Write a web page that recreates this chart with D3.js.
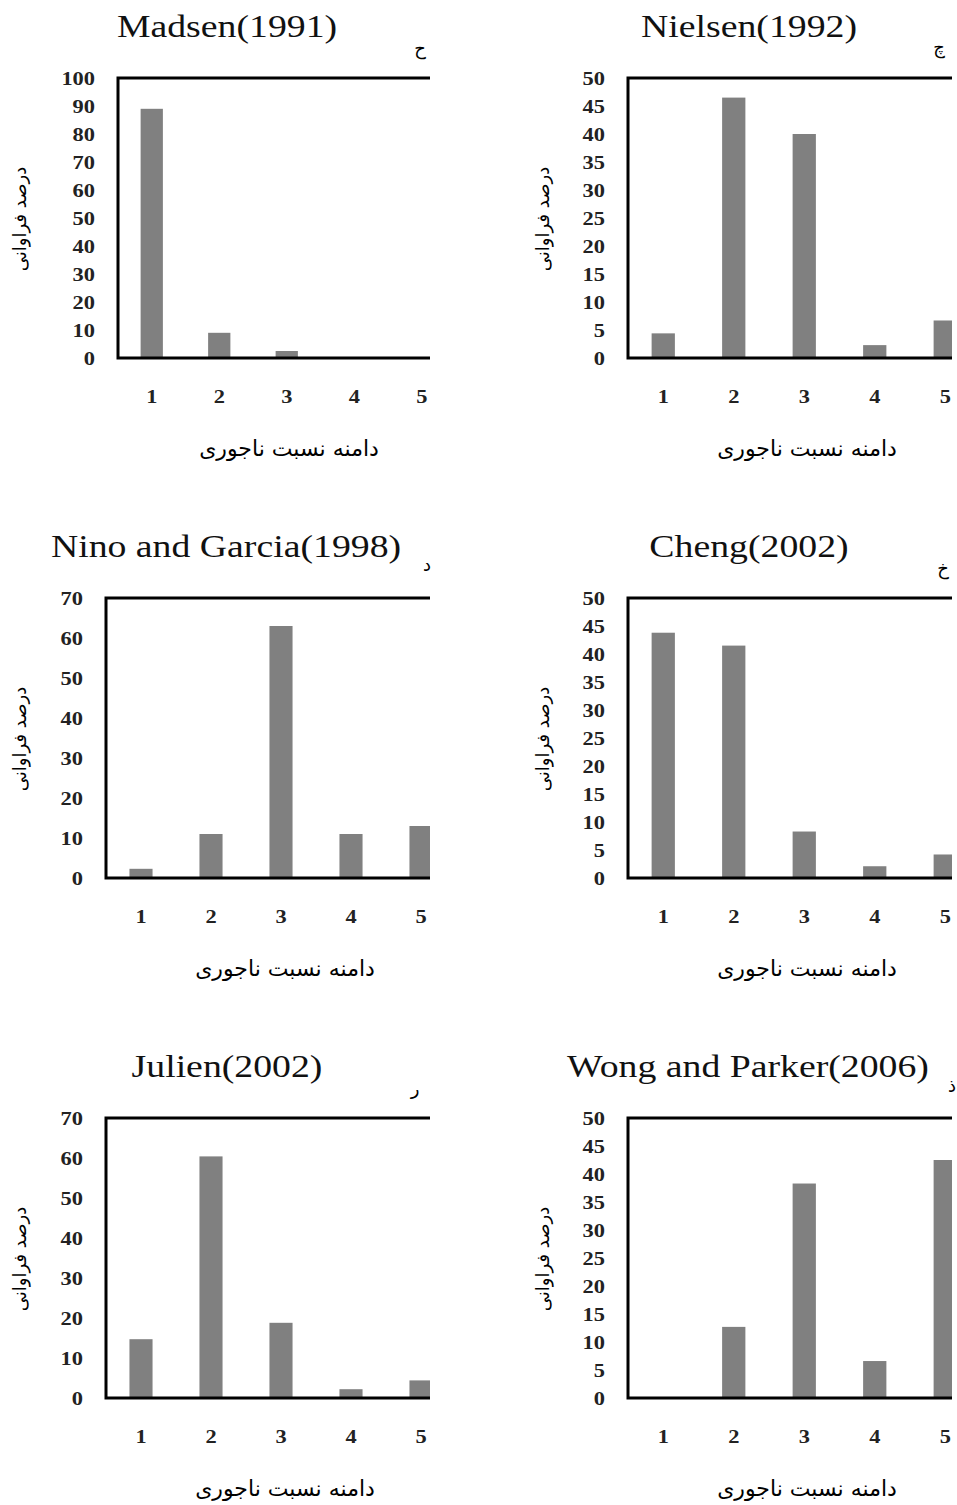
<!DOCTYPE html>
<html>
<head>
<meta charset="utf-8">
<script src="https://cdn.jsdelivr.net/npm/d3@7"></script>
<style>
  html, body { margin: 0; padding: 0; background: #fff; }
  svg { display: block; }
</style>
</head>
<body>
<div id="chart"></div>
<script>
// categories (ratio ranges) shared by all panels
const categories = ['1', '2', '3', '4', '5'];

// frequency percent per study
const madsen = [89, 9, 2.5, 0, 0];
const nielsen = [4.4, 46.5, 40, 2.3, 6.7];
const ninoGarcia = [2.3, 11, 63, 11, 13];
const cheng = [43.8, 41.5, 8.3, 2.1, 4.2];
const julien = [14.7, 60.4, 18.8, 2.2, 4.4];
const wongParker = [0, 12.7, 38.3, 6.6, 42.5];

const titles = ['Madsen(1991)', 'Nielsen(1992)', 'Nino and Garcia(1998)', 'Cheng(2002)', 'Julien(2002)', 'Wong and Parker(2006)'];
const panelLetters = ['ح', 'چ', 'د', 'خ', 'ر', 'ذ'];

// y tick labels
const ticks100 = [0, 10, 20, 30, 40, 50, 60, 70, 80, 90, 100];
const ticks70 = [0, 10, 20, 30, 40, 50, 60, 70];
const ticks50 = [0, 5, 10, 15, 20, 25, 30, 35, 40, 45, 50];

const xAxisTitle = 'دامنه نسبت ناجوری';
const yAxisTitle = 'درصد فراوانی';

const series = [madsen, nielsen, ninoGarcia, cheng, julien, wongParker];
const tickSets = [ticks100, ticks50, ticks70, ticks50, ticks70, ticks50];

const W = 957, H = 1505;
const serif = '"Liberation Serif", "Times New Roman", serif';
const arabic = '"DejaVu Sans", sans-serif';

// panel layout (pixels)
const layout = [
  { oy: 0,    left: 118, step: 67.5, clip: 430, titleX: 227, yTitleX: 20,  xTitleX: 289, letterX: 420, letterY: 55 },
  { oy: 0,    left: 628, step: 70.5, clip: 952, titleX: 749, yTitleX: 543, xTitleX: 807, letterX: 939, letterY: 53 },
  { oy: 520,  left: 106, step: 70,   clip: 430, titleX: 226, yTitleX: 20,  xTitleX: 285, letterX: 427, letterY: 51 },
  { oy: 520,  left: 628, step: 70.5, clip: 952, titleX: 749, yTitleX: 543, xTitleX: 807, letterX: 943, letterY: 55 },
  { oy: 1040, left: 106, step: 70,   clip: 430, titleX: 227, yTitleX: 20,  xTitleX: 285, letterX: 415, letterY: 55 },
  { oy: 1040, left: 628, step: 70.5, clip: 952, titleX: 748, yTitleX: 543, xTitleX: 807, letterX: 952, letterY: 52 }
];

const plotTop = 78, plotBottom = 358;

const svg = d3.select('#chart').append('svg')
  .attr('width', W)
  .attr('height', H);

svg.append('rect').attr('width', W).attr('height', H).attr('fill', '#fff');

// widen glyphs a little, the source figure is stretched horizontally
function stretch(sel, f) {
  sel.each(function() {
    const w = this.getComputedTextLength();
    d3.select(this).attr('textLength', w * f).attr('lengthAdjust', 'spacingAndGlyphs');
  });
}

layout.forEach((p, i) => {
  const g = svg.append('g').attr('transform', `translate(0,${p.oy})`);
  const values = series[i];
  const ticks = tickSets[i];

  const x = d3.scaleBand()
    .domain(categories)
    .range([p.left, p.left + p.step * categories.length])
    .paddingInner(0.67)
    .paddingOuter(0.335);

  const y = d3.scaleLinear()
    .domain([0, d3.max(ticks)])
    .range([plotBottom, plotTop]);

  const clipId = 'clip' + i;
  g.append('clipPath').attr('id', clipId)
    .append('rect')
    .attr('x', 0).attr('y', 0)
    .attr('width', p.clip).attr('height', 500);

  const plot = g.append('g').attr('clip-path', `url(#${clipId})`);

  // bars
  plot.selectAll('rect.bar')
    .data(values.map((v, k) => ({ cat: categories[k], v })))
    .enter()
    .append('rect')
    .attr('class', 'bar')
    .attr('x', d => x(d.cat))
    .attr('width', x.bandwidth())
    .attr('y', d => y(d.v))
    .attr('height', d => y(0) - y(d.v))
    .attr('fill', '#808080');

  // frame: top, left and bottom (right side is cut off)
  plot.append('path')
    .attr('d', `M${p.clip + 5},${y(d3.max(ticks))}H${p.left}V${y(0)}H${p.clip + 5}`)
    .attr('fill', 'none')
    .attr('stroke', '#000')
    .attr('stroke-width', 3);

  // y axis
  const yAxis = g.append('g')
    .attr('transform', `translate(${p.left},0)`)
    .call(d3.axisLeft(y).tickValues(ticks).tickSize(0).tickPadding(23));
  yAxis.select('.domain').remove();
  yAxis.selectAll('text')
    .attr('font-family', serif)
    .attr('font-size', 19)
    .attr('font-weight', 'bold')
    .attr('fill', '#222')
    .call(stretch, 1.18);

  // x axis labels
  const xAxis = g.append('g')
    .attr('transform', `translate(0,${plotBottom})`)
    .call(d3.axisBottom(x).tickSize(0).tickPadding(32));
  xAxis.select('.domain').remove();
  xAxis.selectAll('text')
    .attr('font-family', serif)
    .attr('font-size', 19)
    .attr('font-weight', 'bold')
    .attr('fill', '#222')
    .call(stretch, 1.18);

  // title
  g.append('text')
    .attr('x', p.titleX)
    .attr('y', 37)
    .attr('text-anchor', 'middle')
    .attr('font-family', serif)
    .attr('font-size', 32)
    .attr('fill', '#111')
    .text(titles[i])
    .call(stretch, 1.18);

  // panel letter
  g.append('text')
    .attr('x', p.letterX)
    .attr('y', p.letterY)
    .attr('text-anchor', 'middle')
    .attr('font-family', arabic)
    .attr('font-size', 18)
    .attr('fill', '#000')
    .text(panelLetters[i]);

  // axis titles
  g.append('text')
    .attr('transform', `translate(${p.yTitleX},219) rotate(-90)`)
    .attr('text-anchor', 'middle')
    .attr('dy', '0.35em')
    .attr('font-family', arabic)
    .attr('font-size', 18)
    .attr('fill', '#000')
    .text(yAxisTitle);

  g.append('text')
    .attr('x', p.xTitleX)
    .attr('y', 456)
    .attr('text-anchor', 'middle')
    .attr('font-family', arabic)
    .attr('font-size', 22)
    .attr('fill', '#000')
    .text(xAxisTitle);
});
</script>
</body>
</html>
